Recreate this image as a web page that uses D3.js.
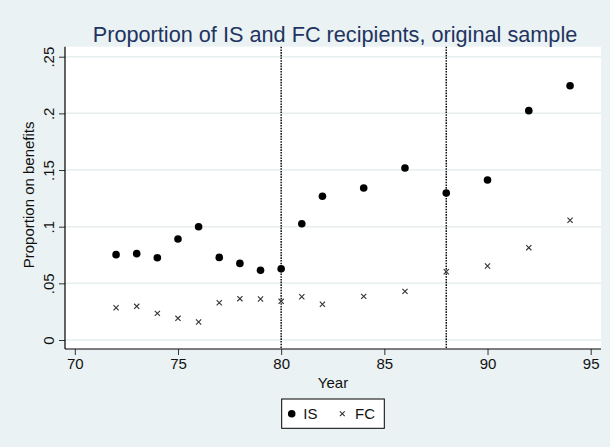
<!DOCTYPE html>
<html>
<head>
<meta charset="utf-8">
<script src="https://cdn.jsdelivr.net/npm/d3@7"></script>
<style>
  html, body { margin: 0; padding: 0; background: #eaf2f3; }
  svg { display: block; }
  text { font-family: "Liberation Sans", Arial, Helvetica, sans-serif; }
</style>
</head>
<body>
<svg id="chart" width="610" height="447"></svg>
<script>
const years = [72,73,74,75,76,77,78,79,80,81,82,84,86,88,90,92,94];
const isVals = [0.0753,0.0762,0.0726,0.0891,0.1000,0.0729,0.0676,0.0615,0.0629,0.1026,0.1268,0.1341,0.1518,0.1297,0.1412,0.2024,0.2244];
const fcVals = [0.0285,0.0297,0.0235,0.0191,0.0159,0.0329,0.0365,0.0362,0.0341,0.0382,0.0315,0.0385,0.0429,0.0603,0.0653,0.0815,0.1056];
const xTicks = [70,75,80,85,90,95];
const yTicks = [0,0.05,0.1,0.15,0.2,0.25];
const yTickLabels = ["0",".05",".1",".15",".2",".25"];
const refLines = [80,88];
const titleText = "Proportion of IS and FC recipients, original sample";
const xTitle = "Year";
const yTitle = "Proportion on benefits";
const seriesNames = ["IS","FC"];

const svg = d3.select("#chart");
const W = 610, H = 447;
const plot = {left: 65, right: 601, top: 46.7, bottom: 349};

svg.append("rect").attr("width", W).attr("height", H).attr("fill", "#eaf2f3");

const x = d3.scaleLinear().domain([70,95]).range([74.8, 590.7]);
const y = d3.scaleLinear().domain([0,0.25]).range([340, 56.7]);

// plot region
svg.append("rect")
  .attr("x", plot.left).attr("y", plot.top)
  .attr("width", plot.right - plot.left).attr("height", plot.bottom - plot.top)
  .attr("fill", "#ffffff");

// gridlines
svg.append("g").selectAll("line").data(yTicks).join("line")
  .attr("x1", plot.left).attr("x2", plot.right)
  .attr("y1", d => y(d)).attr("y2", d => y(d))
  .attr("stroke", "#e6eef0").attr("stroke-width", 1.5);

// reference lines
svg.append("g").selectAll("line").data(refLines).join("line")
  .attr("x1", d => x(d)).attr("x2", d => x(d))
  .attr("y1", plot.top).attr("y2", plot.bottom)
  .attr("stroke", "#000").attr("stroke-width", 1.4)
  .attr("stroke-dasharray", "1.6,1.1");

// axes
const xAxis = d3.axisBottom(x).tickValues(xTicks).tickSize(6).tickPadding(3).tickFormat(d3.format("d"));
const gx = svg.append("g").attr("transform", `translate(0,${plot.bottom})`).call(xAxis);
gx.select(".domain").remove();
gx.append("line").attr("x1", plot.left).attr("x2", plot.right).attr("y1", 0).attr("y2", 0)
  .attr("stroke", "#000").attr("stroke-width", 1.2);
gx.selectAll(".tick line").attr("stroke", "#333");
gx.selectAll(".tick text").attr("font-size", 15).attr("fill", "#111")
  .attr("font-family", "Liberation Sans, Arial, sans-serif");

const yAxis = d3.axisLeft(y).tickValues(yTicks).tickSize(6).tickFormat((d,i) => yTickLabels[i]);
const gy = svg.append("g").attr("transform", `translate(${plot.left},0)`).call(yAxis);
gy.select(".domain").remove();
gy.append("line").attr("x1", 0).attr("x2", 0).attr("y1", plot.top).attr("y2", plot.bottom)
  .attr("stroke", "#000").attr("stroke-width", 1.2);
gy.selectAll(".tick line").attr("stroke", "#333");
gy.selectAll(".tick text")
  .attr("font-size", 15).attr("fill", "#111")
  .attr("font-family", "Liberation Sans, Arial, sans-serif")
  .attr("x", null).attr("dy", null)
  .attr("text-anchor", "middle")
  .attr("transform", "translate(-11.5,0) rotate(-90)");

// markers IS
svg.append("g").selectAll("circle").data(years).join("circle")
  .attr("cx", (d) => x(d)).attr("cy", (d,i) => y(isVals[i]))
  .attr("r", 3.8).attr("fill", "#000");

// markers FC
const xs = 2.6;
svg.append("g").selectAll("path").data(years).join("path")
  .attr("d", (d,i) => {
    const cx = x(d), cy = y(fcVals[i]);
    return `M${cx-xs},${cy-xs}L${cx+xs},${cy+xs}M${cx-xs},${cy+xs}L${cx+xs},${cy-xs}`;
  })
  .attr("stroke", "#333").attr("stroke-width", 1.1).attr("fill", "none");

// title
svg.append("text").attr("x", 335).attr("y", 41.7)
  .attr("text-anchor", "middle").attr("font-size", 21.7).attr("fill", "#1f3461")
  .text(titleText);

// axis titles
svg.append("text").attr("x", (plot.left + plot.right) / 2).attr("y", 388)
  .attr("text-anchor", "middle").attr("font-size", 15).attr("fill", "#111")
  .text(xTitle);
svg.append("text")
  .attr("transform", `translate(33.5,${(plot.top + plot.bottom) / 2 - 3}) rotate(-90)`)
  .attr("text-anchor", "middle").attr("font-size", 15).attr("fill", "#111")
  .text(yTitle);

// legend
const lg = svg.append("g");
lg.append("rect").attr("x", 281.7).attr("y", 399).attr("width", 102.6).attr("height", 29.3)
  .attr("fill", "#fff").attr("stroke", "#000").attr("stroke-width", 1);
lg.append("circle").attr("cx", 291.7).attr("cy", 413.7).attr("r", 3.8).attr("fill", "#000");
lg.append("text").attr("x", 303.3).attr("y", 419.2).attr("font-size", 15).attr("fill", "#111").text(seriesNames[0]);
const lx = 342.3, ly = 413.7, ls = 2.4;
lg.append("path").attr("d", `M${lx-ls},${ly-ls}L${lx+ls},${ly+ls}M${lx-ls},${ly+ls}L${lx+ls},${ly-ls}`)
  .attr("stroke", "#333").attr("stroke-width", 1.1);
lg.append("text").attr("x", 355).attr("y", 419.2).attr("font-size", 15).attr("fill", "#111").text(seriesNames[1]);
</script>
</body>
</html>
